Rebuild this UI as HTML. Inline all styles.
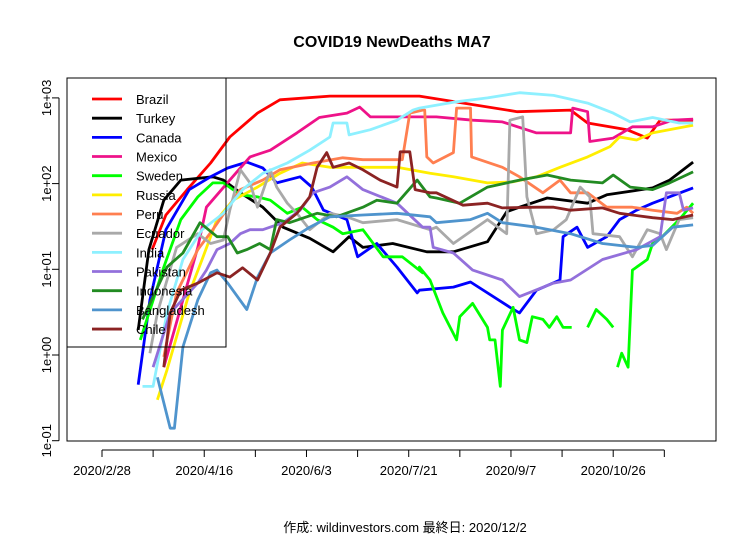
<!DOCTYPE html>
<html><head><meta charset="utf-8"><style>
body{margin:0;background:#fff;}
svg{display:block;font-family:"Liberation Sans","Noto Sans CJK JP",sans-serif;}
</style></head><body>
<svg id="chart" width="756" height="540" viewBox="0 0 756 540">
<rect width="756" height="540" fill="#fff"/>
<text x="392" y="47" text-anchor="middle" font-size="16" font-weight="bold">COVID19 NewDeaths MA7</text>
<g id="axes"></g>
<g id="series"></g>
<rect x="67" y="78" width="649" height="363" fill="none" stroke="#000" stroke-width="1"/>
<g id="legend"></g>
<text x="405" y="532" text-anchor="middle" font-size="13">作成: wildinvestors.com 最終日: 2020/12/2</text>
</svg>
<script>
// days since 2020-02-28
const names=["Brazil","Turkey","Canada","Mexico","Sweden","Russia","Peru","Ecuador","India","Pakistan","Indonesia","Bangladesh","Chile"];
const colors=["#ff0000","#000000","#0000ff","#ee1289","#00ff00","#ffee00","#ff7f50","#a9a9a9","#8ef0ff","#9370db","#228b22","#4f94cd","#8b2323"];
const brazilDays=[23.5,30,40,51,60,73,83.5,107,149,195,220,228,246.5,256,262,277.5];
const brazilVals=[17,43,85,174,350,665,950,1050,1050,690,720,510,425,340,550,550];
const turkeyDays=[17,22,29,37,52,57,65,75.5,85,97.5,108.5,116,122.5,136.5,152.5,154,165,181,190,196,209,228,237,258.5,266.5,277.5];
const turkeyVals=[1.96,17,64,110,120,110,78,53,31,23,16,24,18,20,16,16,16,21,47,53,68,59,74,89,110,178];
const canadaDays=[17,22.5,30,41,51,59,68,75.5,82,93,98.5,104,115,120,129,138.5,148,149,165,173,191.5,196,204,215,216.5,223,228,237,243,251,258.5,277.5];
const canadaVals=[0.45,4.4,29,85,120,152,178,152,102,120,91,49,38,14,20,10.6,5.3,5.7,6.2,7.1,3.6,3.1,5.7,7.5,24,31,18,24,38,49,59,89];
const mexicoDays=[29,45,49,60,69.5,79,91.5,102,115,121,126,154,157,174,188,204,220,221,228,229,240,249,258.5,268,277.5];
const mexicoVals=[0.72,18,53,110,205,245,390,590,665,780,600,600,600,550,525,390,390,760,690,310,340,460,460,550,565];
const swedenDays=[18,29,37,45,52,57,65,73,79,87,94,101,108.5,113,122.5,132,141,150.5,149,154,160,166.5,168,174,181,182,184.5,187,188,193,196,199.5,202,207,210,213.5,216.5,220.5,228,232,237,240,242,244,247,249,256,258.5,263,271,277.5];
const swedenVals=[1.5,10.6,38,70,102,102,74,70,64,45,53,38,31,26,29,14,14,9.1,10.6,7.5,3.1,1.5,2.8,4.0,2.1,1.5,1.5,0.43,1.95,3.6,1.5,1.4,2.8,2.6,2.1,2.8,2.1,2.1,2.1,3.4,2.6,2.1,0.72,1.05,0.72,9.8,13,20,24,38,59];
const swedenGaps=[[220.5,228],[240,242]];
const russiaDays=[26,30.5,41,47,54,61.5,73,83.5,94,107,122.5,138.5,154,165,181,193,204,215,228,238.5,243,251,258.5,277.5];
const russiaVals=[0.3,0.67,5.3,13,38,64,91,132,174,155,155,155,132,120,102,105,120,155,205,270,350,323,390,480];
const peruDays=[29,35,45,52,65,75.5,83.5,99,113,122.5,141,144.5,150.5,151.5,152.5,155.5,165,166.5,173,173.5,188,196,207,215,220,228,237,249,258.5,270,274.5,277.5];
const peruVals=[0.95,5.3,17,29,85,110,145,174,200,190,190,665,720,720,205,174,230,760,760,205,155,120,78,110,78,78,53,53,49,45,53,45];
const ecuadorDays=[22.5,26,35,45,51,57,60,65,69.5,73,79,82,87,91.5,97.5,107,115,122.5,138.5,154,157,165,181,190,191.5,197.5,199.5,204,212,218,224.5,229,230.5,243,249,256,262,265,271,277.5];
const ecuadorVals=[1.05,3.1,18,26,20,22,49,145,102,53,145,91,59,45,29,45,41,35,38,29,31,20,38,26,550,600,70,26,29,38,91,70,26,24,14,29,26,17,38,40];
const indiaDays=[19,24,30.5,38,47,57,66,75.5,87,97.5,107,108.5,115,116,126,138.5,146,149,165,181,196,212,228,240,248,258.5,271,277.5];
const indiaVals=[0.43,0.43,3.1,13,29,45,85,132,174,245,350,510,510,370,425,550,720,760,890,1000,1150,1070,870,665,525,590,510,510];
const pakistanDays=[24,32,45,49,54,60,65,69.5,75.5,85,93,99,107,115,122.5,138.5,150.5,154,155.5,165,174,188,196,212,220,235,251,262,265,271,273,277.5];
const pakistanVals=[0.72,3.1,6.9,9.8,17,20,26,29,29,35,49,78,91,120,85,59,31,31,18,15.5,9.8,7.5,4.8,6.9,7.5,13,17,24,78,78,49,52];
const indonesiaDays=[19,30.5,38,46,54,59,63.5,68,74,79,82,88,101,110,122.5,129,138.5,148,154,157,168,181,196,209,220,235,240,248,258.5,266.5,277.5];
const indonesiaVals=[2.6,10.6,15.5,35,24,24,15.5,17,20,17,38,35,45,41,53,64,59,110,70,68,59,91,110,126,110,102,126,91,85,102,137];
const bangladeshDays=[26,32,34,38,45,51,54,59,68,73,79,88,97.5,107,122.5,138.5,154,157,173,181,188,204,220,235,251,258.5,268,277.5];
const bangladeshVals=[0.55,0.14,0.14,1.24,4.4,9.1,9.8,6.9,3.4,8.1,15.5,22,31,41,43,45,41,35,38,45,35,31,26,20,18,19,31,33];
const chileDays=[29,32,37,45,54,60,66,73,79,83.5,91.5,97.5,101,105.5,108.5,116,122.5,130.5,138.5,140,144.5,147,154,157,169.5,181,188,204,212,220,235,243,258.5,268,277.5];
const chileVals=[0.72,3.1,5.7,6.9,9.1,8.1,10.4,7.5,15.5,31,45,70,155,230,155,174,145,110,91,235,235,85,78,78,56,59,52,53,53,49,52,45,40,38,43];

const allDays=[brazilDays,turkeyDays,canadaDays,mexicoDays,swedenDays,russiaDays,peruDays,ecuadorDays,indiaDays,pakistanDays,indonesiaDays,bangladeshDays,chileDays];
const allVals=[brazilVals,turkeyVals,canadaVals,mexicoVals,swedenVals,russiaVals,peruVals,ecuadorVals,indiaVals,pakistanVals,indonesiaVals,bangladeshVals,chileVals];
const yTickVals=[0.1,1,10,100,1000];
const yTickLabels=["1e-01","1e+00","1e+01","1e+02","1e+03"];
const xTickDays=[0,24,48,72,96,120,144,168,192,216,240,264];
const xTickLabels=["2020/2/28","","2020/4/16","","2020/6/3","","2020/7/21","","2020/9/7","","2020/10/26",""];

const NS="http://www.w3.org/2000/svg";
function xs(d){return 102+d*2.13;}
function ys(v){return 355-85.7*Math.log10(v);}
function mk(tag,attrs,parent){const e=document.createElementNS(NS,tag);for(const k in attrs)e.setAttribute(k,attrs[k]);parent.appendChild(e);return e;}
const axes=document.getElementById('axes');
const yl=mk('line',{x1:59,x2:59,y1:ys(0.1),y2:ys(1000),stroke:'#000'},axes);


yTickVals.forEach((v,i)=>{
  const t=mk('line',{x1:52,x2:59,y1:ys(v),y2:ys(v),stroke:'#000'},axes);
  
  
  const tx=mk('text',{x:51,y:ys(v),'text-anchor':'middle','font-size':13,transform:`rotate(-90 51 ${ys(v)})`},axes);
  tx.textContent=yTickLabels[i];
  
  
});
const xl=mk('line',{x1:xs(xTickDays[0]),x2:xs(xTickDays[xTickDays.length-1]),y1:450,y2:450,stroke:'#000'},axes);


xTickDays.forEach((d,i)=>{
  const t=mk('line',{x1:xs(d),x2:xs(d),y1:450,y2:457,stroke:'#000'},axes);
  
  
  if(xTickLabels[i]){
    const tx=mk('text',{x:xs(d),y:475,'text-anchor':'middle','font-size':13},axes);
    tx.textContent=xTickLabels[i];
    
    
  }
});
const sg=document.getElementById('series');
allDays.forEach((days,si)=>{
  const vals=allVals[si];
  let d='';
  for(let i=0;i<days.length;i++){
    let gap=false;
    if(si===4&&i>0){swedenGaps.forEach(g=>{if(days[i-1]===g[0]&&days[i]===g[1])gap=true;});}
    d+=(i===0||gap?'M':'L')+xs(days[i]).toFixed(1)+','+ys(vals[i]).toFixed(1);
  }
  const p=mk('path',{d:d,fill:'none',stroke:colors[si],'stroke-width':2.8,'stroke-linejoin':'round'},sg);
  
  
});
const lg=document.getElementById('legend');
const lb=mk('rect',{x:67,y:78,width:159,height:269,fill:'none',stroke:'#000'},lg);


names.forEach((n,i)=>{
  const y=99+i*19.17;
  const l=mk('line',{x1:92,x2:122,y1:y,y2:y,stroke:colors[i],'stroke-width':2.8},lg);
  
  
  const t=mk('text',{x:136,y:y+5,'font-size':13},lg);
  t.textContent=n;
  
  
});
</script>
</body></html>
